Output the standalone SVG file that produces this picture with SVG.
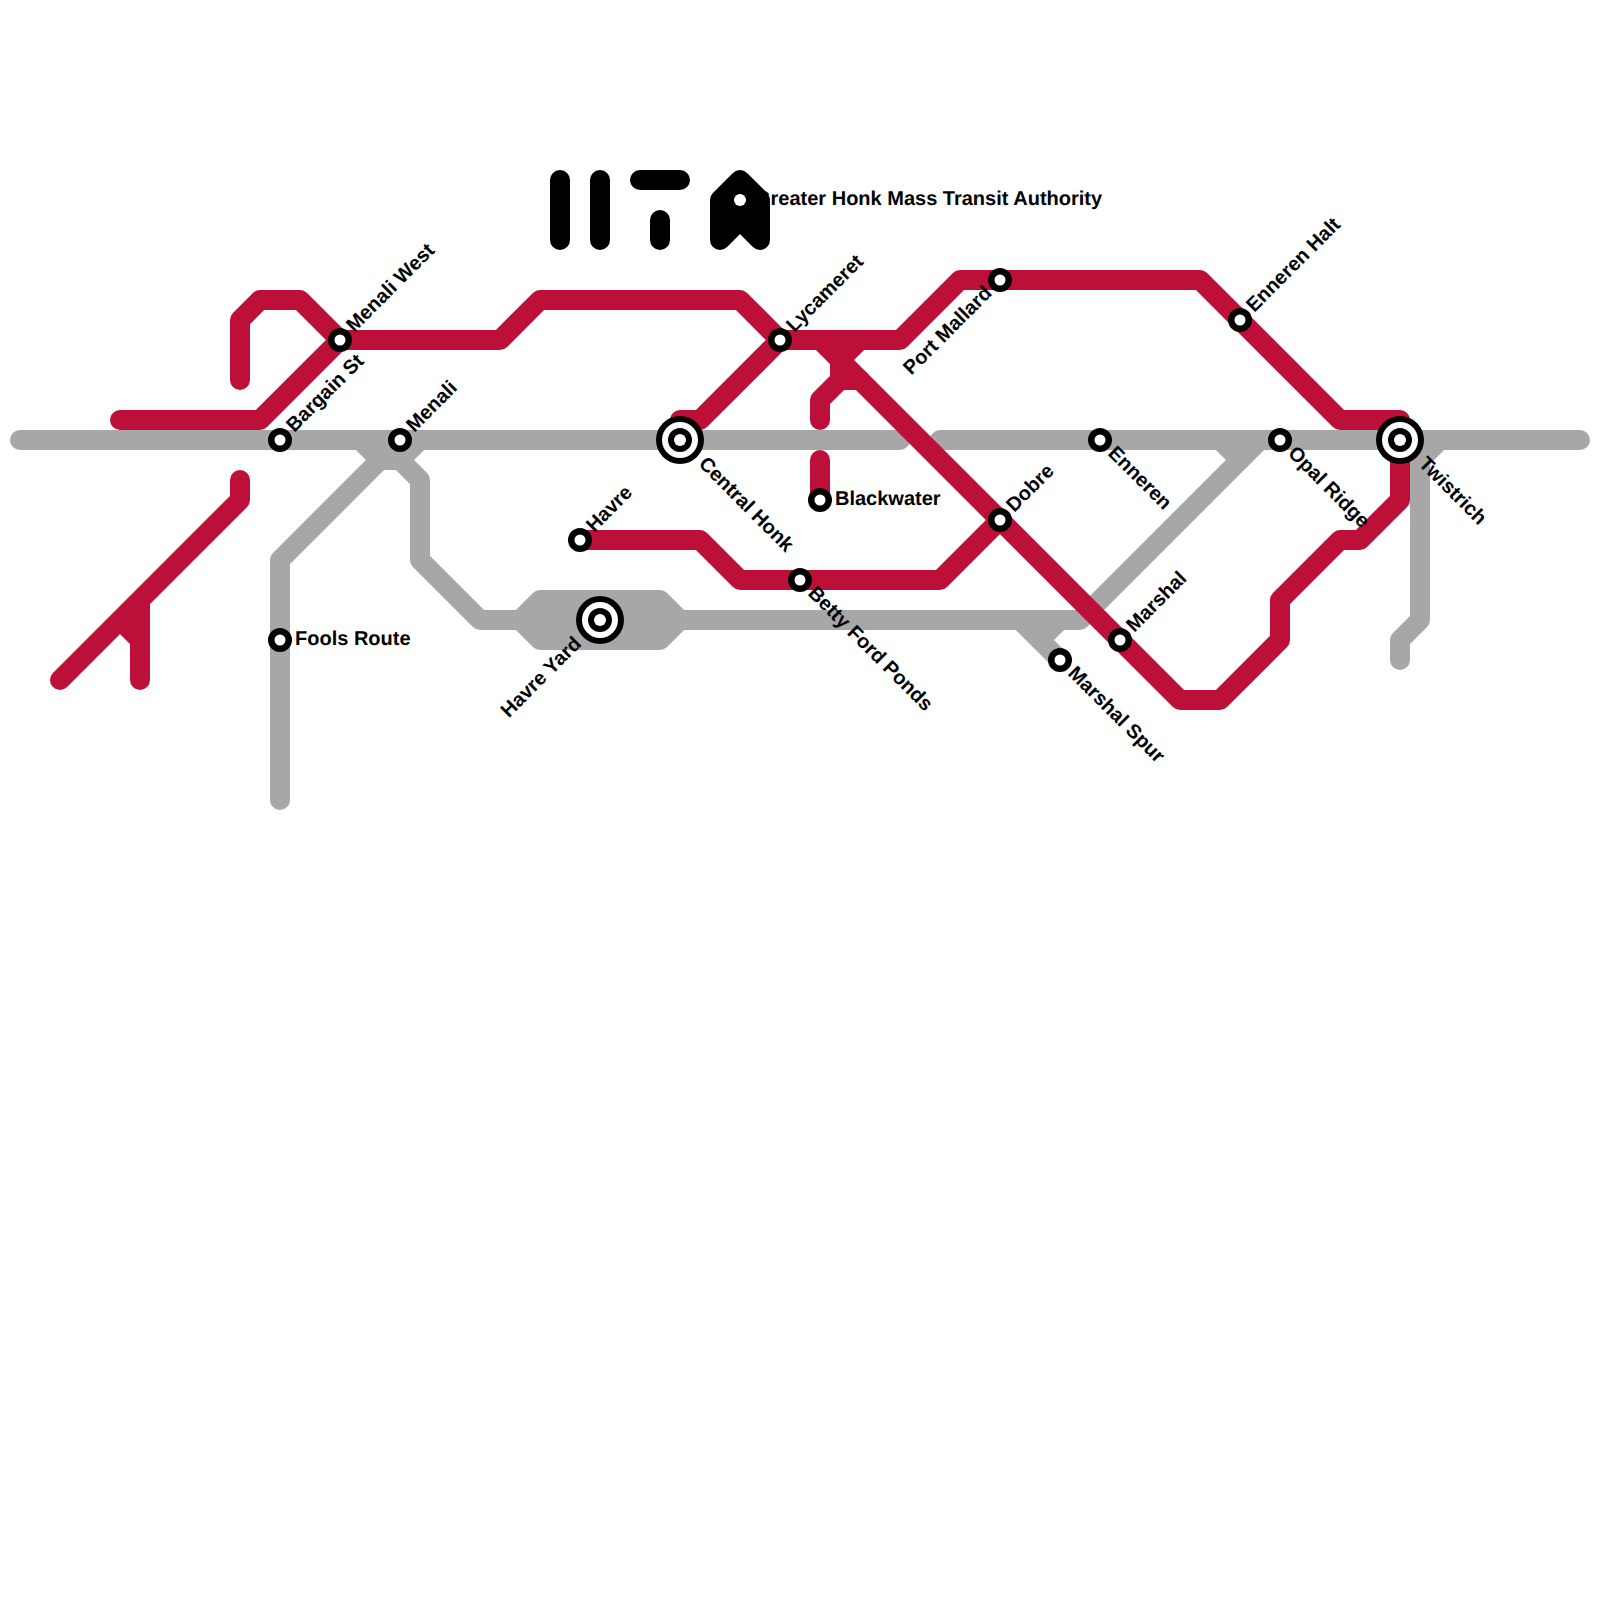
<svg xmlns="http://www.w3.org/2000/svg" width="1600" height="1600" viewBox="0 0 1600 1600">
<style>
.l{fill:none;stroke-width:20;stroke-linecap:round;stroke-linejoin:round}
.g{stroke:#a7a7a7}
.r{stroke:#bd1038}
.k{stroke:#000}
.s{fill:#fff;stroke:#000;stroke-width:6.5}
.o{fill:#000}
.w{fill:#fff}
text{font-family:"Liberation Sans",Arial,sans-serif;font-size:20px;font-weight:bold;fill:#000;text-rendering:geometricPrecision}
.e{text-anchor:end}
</style>
<rect width="1600" height="1600" fill="#fff"/>
<g id="connectors">
<path class="l g" d="M20 440H900M940 440H1580"/>
<path class="l g" d="M280 800V560L380 460H400L420 480V560L480 620H1080L1260 440"/>
<path class="l g" d="M360 440L380 460M420 440L400 460"/>
<path class="l g" style="fill:#a7a7a7" d="M520 620L540 600H660L680 620L660 640H540Z"/>
<path class="l g" d="M1020 620L1060 660M1060 620L1040 640M1220 440L1240 460"/>
<path class="l g" d="M1440 440L1420 460V620L1400 640V660"/>
<path class="l r" d="M120 420H260L340 340H500L540 300H740L780 340H900L960 280H1200L1340 420H1400V500L1360 540H1340L1280 600V640L1220 700H1180L820 340"/>
<path class="l r" d="M240 380V320L260 300H300L340 340"/>
<path class="l r" d="M240 480V500L60 680M140 680V600M120 620L140 640"/>
<path class="l r" d="M680 420H700L780 340"/>
<path class="l r" d="M860 340L840 360V380L820 400V420M840 380H860"/>
<path class="l r" d="M820 460V500"/>
<path class="l r" d="M580 540H700L740 580H940L1000 520"/>
<path class="l k" d="M560 180V240M600 180V240M640 180H680M660 220V240"/>
<path class="l k" style="fill:#000" d="M720 240V200L740 180L760 200V240L740 220Z"/>
</g>
<g id="n-authority"><circle class="w" cx="740" cy="200" r="6"/><text x="755" y="205">Greater Honk Mass Transit Authority</text></g>
<g id="n-bargain-st"><circle class="s" cx="280" cy="440" r="8.75"/><text transform="translate(280 440) rotate(-45)" x="15" y="5">Bargain St</text></g>
<g id="n-menali"><circle class="s" cx="400" cy="440" r="8.75"/><text transform="translate(400 440) rotate(-45)" x="15" y="5">Menali</text></g>
<g id="n-menali-west"><circle class="s" cx="340" cy="340" r="8.75"/><text transform="translate(340 340) rotate(-45)" x="15" y="5">Menali West</text></g>
<g id="n-fools-route"><circle class="s" cx="280" cy="640" r="8.75"/><text x="295" y="645">Fools Route</text></g>
<g id="n-central-honk"><circle class="o" cx="680" cy="440" r="24"/><circle class="w" cx="680" cy="440" r="18"/><circle class="o" cx="680" cy="440" r="12"/><circle class="w" cx="680" cy="440" r="6"/><text transform="translate(680 440) rotate(45)" x="30" y="5">Central Honk</text></g>
<g id="n-lycameret"><circle class="s" cx="780" cy="340" r="8.75"/><text transform="translate(780 340) rotate(-45)" x="15" y="5">Lycameret</text></g>
<g id="n-blackwater"><circle class="s" cx="820" cy="500" r="8.75"/><text x="835" y="505">Blackwater</text></g>
<g id="n-havre"><circle class="s" cx="580" cy="540" r="8.75"/><text transform="translate(580 540) rotate(-45)" x="15" y="5">Havre</text></g>
<g id="n-havre-yard"><circle class="o" cx="600" cy="620" r="24"/><circle class="w" cx="600" cy="620" r="18"/><circle class="o" cx="600" cy="620" r="12"/><circle class="w" cx="600" cy="620" r="6"/><text class="e" transform="translate(600 620) rotate(-45)" x="-30" y="5">Havre Yard</text></g>
<g id="n-betty-ford-ponds"><circle class="s" cx="800" cy="580" r="8.75"/><text transform="translate(800 580) rotate(45)" x="15" y="5">Betty Ford Ponds</text></g>
<g id="n-port-mallard"><circle class="s" cx="1000" cy="280" r="8.75"/><text class="e" transform="translate(1000 280) rotate(-45)" x="-15" y="5">Port Mallard</text></g>
<g id="n-enneren-halt"><circle class="s" cx="1240" cy="320" r="8.75"/><text transform="translate(1240 320) rotate(-45)" x="15" y="5">Enneren Halt</text></g>
<g id="n-enneren"><circle class="s" cx="1100" cy="440" r="8.75"/><text transform="translate(1100 440) rotate(45)" x="15" y="5">Enneren</text></g>
<g id="n-opal-ridge"><circle class="s" cx="1280" cy="440" r="8.75"/><text transform="translate(1280 440) rotate(45)" x="15" y="5">Opal Ridge</text></g>
<g id="n-twistrich"><circle class="o" cx="1400" cy="440" r="24"/><circle class="w" cx="1400" cy="440" r="18"/><circle class="o" cx="1400" cy="440" r="12"/><circle class="w" cx="1400" cy="440" r="6"/><text transform="translate(1400 440) rotate(45)" x="30" y="5">Twistrich</text></g>
<g id="n-dobre"><circle class="s" cx="1000" cy="520" r="8.75"/><text transform="translate(1000 520) rotate(-45)" x="15" y="5">Dobre</text></g>
<g id="n-marshal"><circle class="s" cx="1120" cy="640" r="8.75"/><text transform="translate(1120 640) rotate(-45)" x="15" y="5">Marshal</text></g>
<g id="n-marshal-spur"><circle class="s" cx="1060" cy="660" r="8.75"/><text transform="translate(1060 660) rotate(45)" x="15" y="5">Marshal Spur</text></g>
</svg>
